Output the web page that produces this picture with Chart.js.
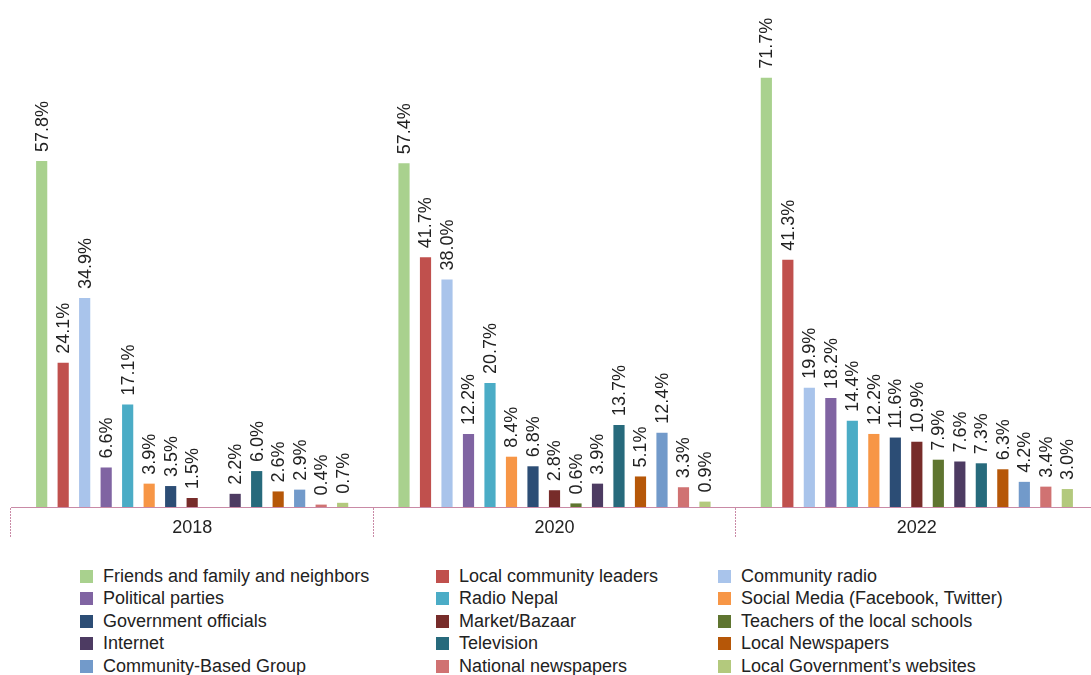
<!DOCTYPE html>
<html>
<head>
<meta charset="utf-8">
<script src="https://cdn.jsdelivr.net/npm/chart.js@4/dist/chart.umd.min.js"></script>
<style>
  html, body { margin: 0; padding: 0; background: #fff; overflow: hidden; width: 1091px; height: 675px; }
  #wrap { position: relative; width: 1091px; height: 675px; overflow: hidden; }
  canvas { position: absolute; left: 0; top: 0; }
  #legend {
    position: absolute; left: 80px; top: 565px;
    display: grid; grid-template-columns: 356px 282px 300px;
    grid-auto-rows: 22.5px;
    font-family: "Liberation Sans", Arial, sans-serif; font-size: 18px; color: #222;
  }
  #legend div { display: flex; align-items: center; white-space: nowrap; }
  #legend span.box { width: 13px; height: 13px; margin-right: 10px; flex: none; }
</style>
</head>
<body>
<div id="wrap">
  <canvas id="chart" width="1100" height="560"></canvas>
  <div id="legend"></div>
</div>
<script>
// Jahre und Kategorien
const years = ['2018', '2020', '2022'];
const sources = [
    'Friends and family and neighbors', 'Local community leaders', 'Community radio',
    'Political parties', 'Radio Nepal', 'Social Media (Facebook, Twitter)',
    'Government officials', 'Market/Bazaar', 'Teachers of the local schools',
    'Internet', 'Television', 'Local Newspapers',
    'Community-Based Group', 'National newspapers', 'Local Government\u2019s websites'
];

// Werte pro Jahr (%), null = nicht erhoben
const values2018 = [57.8, 24.1, 34.9, 6.6, 17.1, 3.9, 3.5, 1.5, null, 2.2, 6.0, 2.6, 2.9, 0.4, 0.7];
const values2020 = [57.4, 41.7, 38.0, 12.2, 20.7, 8.4, 6.8, 2.8, 0.6, 3.9, 13.7, 5.1, 12.4, 3.3, 0.9];
const values2022 = [71.7, 41.3, 19.9, 18.2, 14.4, 12.2, 11.6, 10.9, 7.9, 7.6, 7.3, 6.3, 4.2, 3.4, 3.0];

const colors = [
    '#a9d18e', '#c0504d', '#a9c4eb',
    '#8064a2', '#4bacc6', '#f79646',
    '#2c4d75', '#772c2a', '#5f7530',
    '#4d3b62', '#276a7c', '#b65708',
    '#729aca', '#d07272', '#b3c97d'
];

const axisColor = '#c98aa6';

// Datensätze aufbauen
const datasets = sources.map((name, i) => ({
    label: name,
    data: [values2018[i], values2020[i], values2022[i]],
    backgroundColor: colors[i],
    borderWidth: 0,
    categoryPercentage: 0.89,
    barPercentage: 0.52
}));

// Beschriftung über den Balken (senkrecht)
const valueLabels = {
    id: 'valueLabels',
    afterDatasetsDraw(chart) {
        const ctx = chart.ctx;
        ctx.save();
        ctx.font = '18px "Liberation Sans", Arial, sans-serif';
        ctx.fillStyle = '#222';
        ctx.textAlign = 'left';
        ctx.textBaseline = 'middle';
        chart.data.datasets.forEach((ds, di) => {
            const meta = chart.getDatasetMeta(di);
            meta.data.forEach((bar, j) => {
                const v = ds.data[j];
                if (v === null || v === undefined) return;
                ctx.save();
                ctx.translate(bar.x + 1, bar.y - 9);
                ctx.rotate(-Math.PI / 2);
                ctx.fillText(v.toFixed(1) + '%', 0, 0);
                ctx.restore();
            });
        });
        ctx.restore();
    }
};

const chart = new Chart(document.getElementById('chart').getContext('2d'), {
    type: 'bar',
    data: { labels: years, datasets: datasets },
    options: {
        responsive: false,
        animation: false,
        devicePixelRatio: 1,
        layout: { padding: { left: 11, right: 2, top: 28, bottom: 0 } },
        plugins: {
            legend: { display: false },
            tooltip: { enabled: false }
        },
        scales: {
            y: { display: false, min: 0, max: 80 },
            x: {
                grid: {
                    offset: true,
                    drawOnChartArea: false,
                    drawTicks: true,
                    tickLength: 30,
                    color: axisColor,
                    tickColor: axisColor,
                    tickBorderDash: [2, 1],
                    tickWidth: 1
                },
                border: { display: true, color: axisColor, dash: [2, 1], width: 1 },
                ticks: {
                    padding: -20,
                    color: '#222',
                    font: { family: '"Liberation Sans", Arial, sans-serif', size: 18 }
                },
                afterFit(scale) { scale.height = 53; }
            }
        }
    },
    plugins: [valueLabels]
});

// Legende als HTML
const legend = document.getElementById('legend');
sources.forEach((name, i) => {
    const item = document.createElement('div');
    const box = document.createElement('span');
    box.className = 'box';
    box.style.background = colors[i];
    item.appendChild(box);
    item.appendChild(document.createTextNode(name));
    legend.appendChild(item);
});
</script>
</body>
</html>
